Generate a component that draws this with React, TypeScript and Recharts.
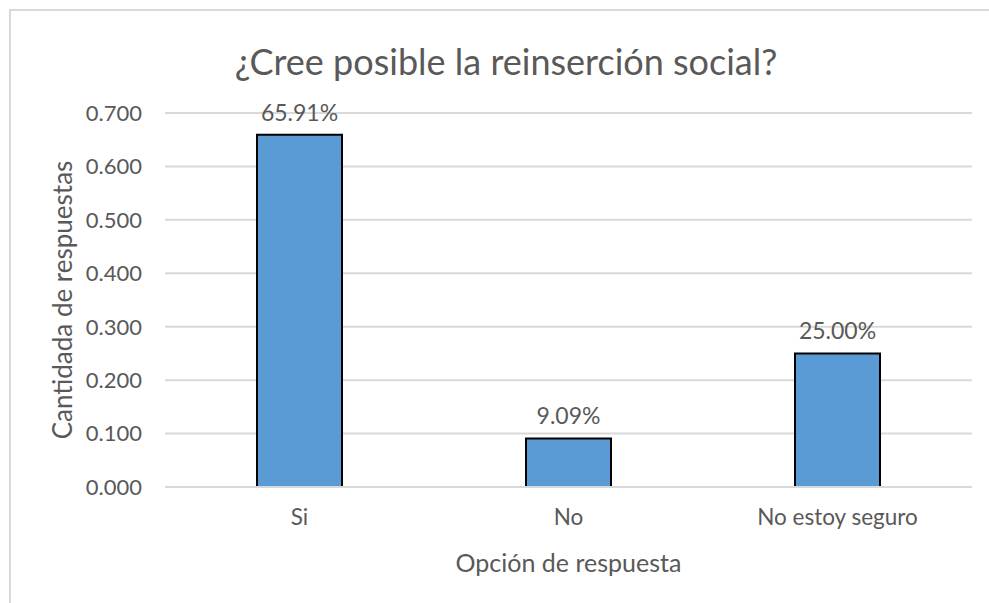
import { BarChart, Bar, XAxis, YAxis, CartesianGrid, LabelList } from 'recharts';

const categories = ['Si', 'No', 'No estoy seguro'];
const shares = [0.6591, 0.0909, 0.25];
const yTicks = [0, 0.1, 0.2, 0.3, 0.4, 0.5, 0.6, 0.7];

const data = categories.map((option, i) => ({ option, value: shares[i] }));

const FONT = 'Lato, "Noto Sans", sans-serif';
const TEXT = '#595959';
const GRID = '#D9D9D9';

export default function App() {
  return (
    <div style={{ position: 'absolute', left: 0, top: 0, width: 989, height: 603, background: '#fff', fontFamily: FONT }}>
      <div
        style={{
          position: 'absolute',
          left: 9,
          top: 9,
          width: 990,
          height: 600,
          borderTop: `2px solid ${GRID}`,
          borderLeft: `2px solid ${GRID}`,
        }}
      />
      <div
        style={{
          position: 'absolute',
          left: 10,
          width: 992,
          top: 36,
          textAlign: 'center',
          fontSize: 36,
          color: TEXT,
          lineHeight: '50px',
        }}
      >
        ¿Cree posible la reinserción social?
      </div>
      <BarChart
        width={989}
        height={603}
        data={data}
        margin={{ top: 113, right: 17, left: 0, bottom: 0 }}
        barCategoryGap={92}
        style={{ position: 'absolute', left: 0, top: 0 }}
      >
        <CartesianGrid vertical={false} stroke={GRID} strokeWidth={2} />
        <XAxis
          dataKey="option"
          height={116}
          axisLine={{ stroke: GRID, strokeWidth: 2 }}
          tickLine={false}
          tickMargin={16}
          tick={{ fill: TEXT, fontSize: 22.5, fontFamily: FONT }}
          label={{
            value: 'Opción de respuesta',
            position: 'insideBottom',
            offset: 31,
            style: { fill: TEXT, fontSize: 25, fontFamily: FONT },
          }}
        />
        <YAxis
          width={165}
          domain={[0, 0.7]}
          ticks={yTicks}
          axisLine={false}
          tickLine={false}
          tickMargin={17}
          tickFormatter={(v: number) => v.toFixed(3)}
          tick={{ fill: TEXT, fontSize: 22, fontFamily: FONT }}
          label={{
            value: 'Cantidada de respuestas',
            angle: -90,
            position: 'insideLeft',
            offset: 63,
            style: { fill: TEXT, fontSize: 26, fontFamily: FONT, textAnchor: 'middle' },
          }}
        />
        <Bar dataKey="value" fill="#5B9BD5" stroke="#000" strokeWidth={2} isAnimationActive={false}>
          <LabelList
            dataKey="value"
            position="top"
            offset={14}
            formatter={(v: number) => `${(v * 100).toFixed(2)}%`}
            style={{ fill: TEXT, fontSize: 23, fontFamily: FONT }}
          />
        </Bar>
      </BarChart>
    </div>
  );
}
